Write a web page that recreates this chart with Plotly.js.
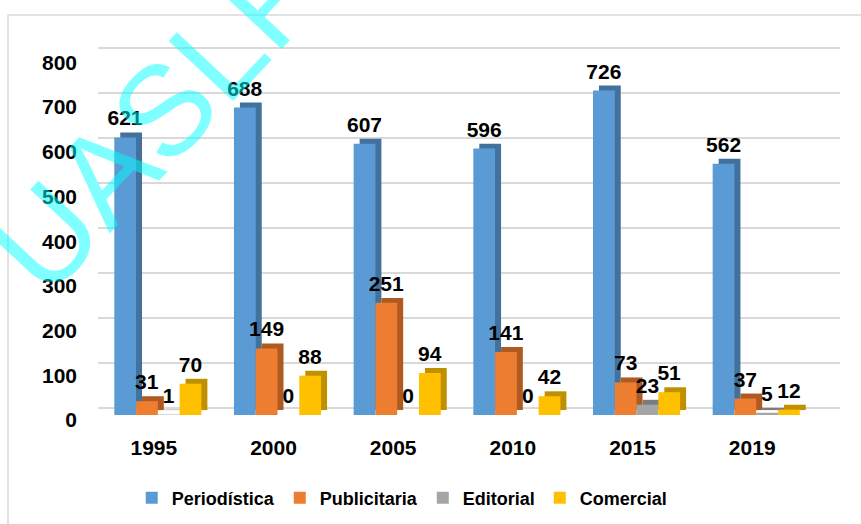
<!DOCTYPE html>
<html>
<head>
<meta charset="utf-8">
<script src="https://cdn.plot.ly/plotly-3.0.1.min.js"></script>
<style>html,body{margin:0;padding:0;background:#fff;}#chart{width:861px;height:524px;}</style>
</head>
<body>
<div id="chart"></div>
<script>
// ---- data ----
const years = ['1995', '2000', '2005', '2010', '2015', '2019'];
const periodistica = [621, 688, 607, 596, 726, 562];
const publicitaria = [31, 149, 251, 141, 73, 37];
const editorial = [1, 0, 0, 0, 23, 5];
const comercial = [70, 88, 94, 42, 51, 12];
const seriesNames = ['Periodística', 'Publicitaria', 'Editorial', 'Comercial'];
const yTicks = [0, 100, 200, 300, 400, 500, 600, 700, 800];

// ---- style ----
const faceColors = ['#5B9BD5', '#ED7D31', '#A5A5A5', '#FFC000'];
const sideColors = ['#41719C', '#AE5A21', '#7C7C7C', '#BF9000'];
const barW = 0.182;
const depthX = 0.05;   // side-face width (category units)
const depthY = 11;     // top-face lift (value units)
const font = 'Arial, "Liberation Sans", sans-serif';

const allSeries = [periodistica, publicitaria, editorial, comercial];
const traces = [];
// depth (side/top) faces first
allSeries.forEach((vals, i) => {
  traces.push({
    type: 'bar', x: years, y: vals, base: depthY,
    offset: -2 * barW + i * barW + depthX, width: barW,
    marker: {color: sideColors[i], line: {width: 0}},
    showlegend: false, hoverinfo: 'skip'
  });
});
// front faces
allSeries.forEach((vals, i) => {
  traces.push({
    type: 'bar', x: years, y: vals, name: seriesNames[i],
    offset: -2 * barW + i * barW, width: barW,
    marker: {color: faceColors[i], line: {width: 0}},
    showlegend: true
  });
});
// value labels
allSeries.forEach((vals, i) => {
  traces.push({
    type: 'bar', x: years, y: vals, base: depthY,
    offset: -2 * barW + i * barW, width: barW,
    marker: {color: 'rgba(0,0,0,0)'},
    text: vals.map(String), textposition: 'outside', cliponaxis: false,
    constraintext: 'none',
    textfont: {family: font, size: 21, color: '#000', weight: 'bold'},
    showlegend: false, hoverinfo: 'skip'
  });
});
// invisible trace to bring back-wall gridlines axis into play
traces.push({type: 'scatter', x: [years[0]], y: [0], yaxis: 'y2', mode: 'markers',
  marker: {opacity: 0}, showlegend: false, hoverinfo: 'skip'});

const layout = {
  width: 861, height: 524,
  margin: {l: 98, r: 21, t: 45, b: 109, autoexpand: false},
  paper_bgcolor: '#fff', plot_bgcolor: 'rgba(0,0,0,0)',
  barmode: 'overlay',
  showlegend: true,
  font: {family: font, color: '#000'},
  xaxis: {
    type: 'category', range: [-0.5, 5.7],
    showgrid: false, zeroline: false, showline: false, ticks: '',
    tickfont: {family: font, size: 21, weight: 'bold', color: '#000'},
    ticklabelstandoff: 18, ticklabelshift: -4
  },
  yaxis: {
    range: [0, 827.7], tickvals: yTicks,
    showgrid: false, zeroline: false, showline: false, ticks: '',
    tickfont: {family: font, size: 21, weight: 'bold', color: '#000'},
    ticklabelstandoff: 20, ticklabelshift: 5
  },
  yaxis2: {
    overlaying: 'y', range: [-15.6, 806.7], tickvals: yTicks,
    showticklabels: false, showgrid: true, gridcolor: '#D9D9D9', gridwidth: 1.5,
    zeroline: false, showline: false, ticks: '', layer: 'below traces'
  },
  legend: {
    orientation: 'h', xref: 'container', yref: 'container',
    x: 0.153, xanchor: 'left', y: 0.0496, yanchor: 'middle',
    font: {family: font, size: 18, weight: 'bold', color: '#000'},
    traceorder: 'normal', bgcolor: 'rgba(0,0,0,0)'
  },
  shapes: [{
    type: 'rect', xref: 'paper', yref: 'paper',
    x0: -0.1213, x1: 1.2, y0: -0.5, y1: 1.081,
    line: {color: '#D9D9D9', width: 1.5}, layer: 'below'
  }],
  annotations: [{
    text: 'UASLP', xref: 'paper', yref: 'paper', x: 0.0795, y: 0.805,
    xanchor: 'center', yanchor: 'middle', showarrow: false, textangle: -47,
    font: {family: font, size: 128, color: 'rgba(0,255,255,0.5)'}
  }]
};

Plotly.newPlot('chart', traces, layout, {displayModeBar: false, staticPlot: true});
</script>
</body>
</html>
